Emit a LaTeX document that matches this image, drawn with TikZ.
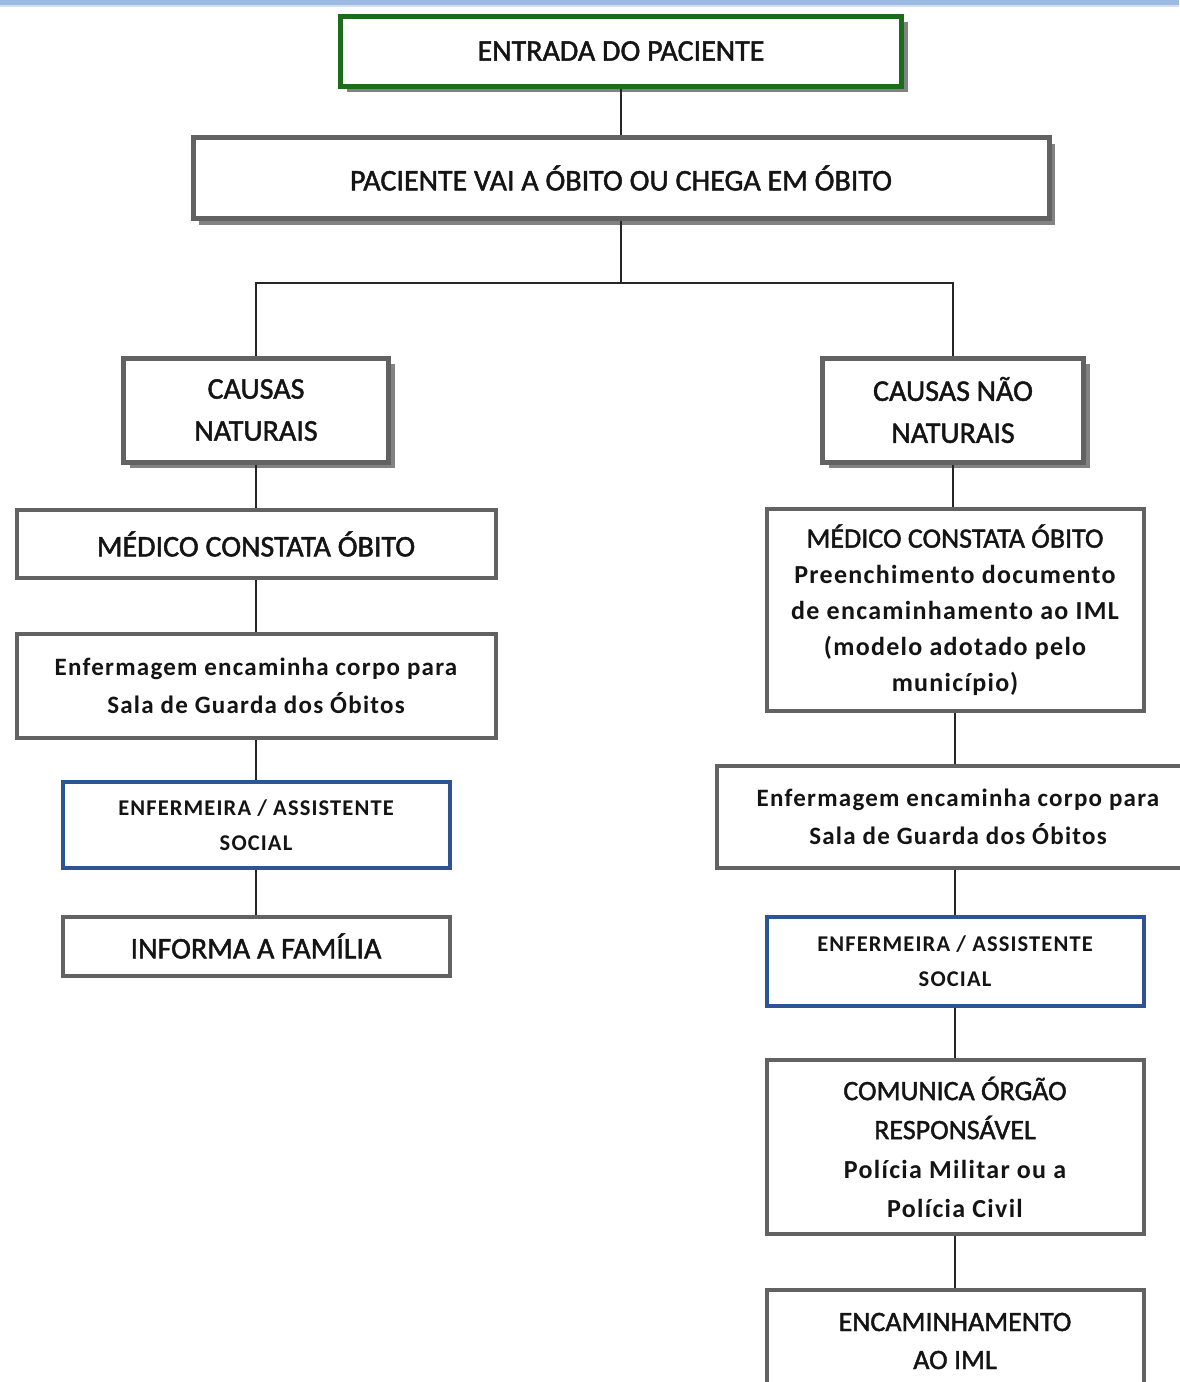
\documentclass[tikz,border=0pt]{standalone}
\usepackage{fontspec}
\setmainfont{Carlito}[FakeBold=1.5]
\newfontfamily\spacedfont[LetterSpace=5]{Carlito}
\usetikzlibrary{shadows}

\definecolor{boxgrey}{RGB}{98,98,98}
\definecolor{shadowgrey}{RGB}{130,130,130}
\definecolor{entrygreen}{RGB}{28,108,28}
\definecolor{staffblue}{RGB}{46,84,148}
\definecolor{bandblue}{RGB}{156,186,226}

\begin{document}
\begin{tikzpicture}[x=1pt,y=-1pt,
	box/.style={draw=boxgrey, line width=4pt, fill=white, inner sep=0pt, align=center, text=black!92},
	shadowbox/.style={box, line width=5pt,
		drop shadow={shadow xshift=6pt, shadow yshift=-6pt, fill=shadowgrey, opacity=1}},
	staffbox/.style={box, draw=staffblue},
	bigcaps/.style={font=\fontsize{30}{42}\selectfont},
	midcaps/.style={font=\fontsize{28}{38}\selectfont},
	bodytext/.style={font=\spacedfont\bfseries\fontsize{25}{38}\selectfont},
	stafftext/.style={font=\spacedfont\bfseries\fontsize{22.5}{35}\selectfont},
	link/.style={draw=black!85, line width=1.8pt}]

	% ---- page

	\useasboundingbox (0,0) rectangle (1179,1382);
	\fill[bandblue] (0,0) rectangle (1179,5);
	\fill[bandblue!45] (0,5) rectangle (1179,7);

	% ---- top

	\node[shadowbox, draw=entrygreen, bigcaps, minimum width=561, minimum height=70]
		(entrada) at (621,51) {ENTRADA DO PACIENTE};
	\node[shadowbox, bigcaps, minimum width=856, minimum height=81]
		(obito) at (621,178) {PACIENTE VAI A ÓBITO OU CHEGA EM ÓBITO};

	\coordinate (split) at (621,283);

	% ---- natural causes

	\node[shadowbox, bigcaps, minimum width=265, minimum height=104]
		(naturais) at (256,410) {CAUSAS\\NATURAIS};
	\node[box, bigcaps, minimum width=479, minimum height=68]
		(medicoN) at (256,544) {MÉDICO CONSTATA ÓBITO};
	\node[box, bodytext, minimum width=479, minimum height=104]
		(salaN) at (256,686) {Enfermagem encaminha corpo para\\Sala de Guarda dos Óbitos};
	\node[staffbox, stafftext, minimum width=387, minimum height=86]
		(enfN) at (256,825) {ENFERMEIRA / ASSISTENTE\\SOCIAL};
	\node[box, bigcaps, minimum width=387, minimum height=59]
		(familia) at (256,946) {INFORMA A FAMÍLIA};

	% ---- non natural causes

	\node[shadowbox, bigcaps, minimum width=261, minimum height=104]
		(naonaturais) at (953,410) {CAUSAS NÃO\\NATURAIS};
	\node[box, font=\fontsize{28}{36}\selectfont, minimum width=377, minimum height=202]
		(medicoNN) at (955,610) {MÉDICO CONSTATA ÓBITO\\
		{\spacedfont\bfseries\fontsize{26}{36}\selectfont Preenchimento documento}\\
		{\spacedfont\bfseries\fontsize{26}{36}\selectfont de encaminhamento ao IML}\\
		{\spacedfont\bfseries\fontsize{26}{36}\selectfont (modelo adotado pelo}\\
		{\spacedfont\bfseries\fontsize{26}{36}\selectfont município)}};
	\node[box, bodytext, minimum width=482, minimum height=102]
		(salaNN) at (958,817) {Enfermagem encaminha corpo para\\Sala de Guarda dos Óbitos};
	\node[staffbox, stafftext, minimum width=377, minimum height=89]
		(enfNN) at (955,961) {ENFERMEIRA / ASSISTENTE\\SOCIAL};
	\node[box, font=\fontsize{28}{39}\selectfont, minimum width=377, minimum height=174]
		(orgao) at (955,1147) {COMUNICA ÓRGÃO\\RESPONSÁVEL\\
		{\spacedfont\bfseries\fontsize{26}{39}\selectfont Polícia Militar ou a}\\
		{\spacedfont\bfseries\fontsize{26}{39}\selectfont Polícia Civil}};
	\node[box, midcaps, minimum width=377, minimum height=102]
		(iml) at (955,1341) {ENCAMINHAMENTO\\AO IML};

	% ---- connectors

	\draw[link] (entrada.south) -- (obito.north);
	\draw[link] (obito.south) -- (split);
	\draw[link] (split) -| (naturais.north);
	\draw[link] (split) -| (naonaturais.north);

	\draw[link] (naturais.south) -- (medicoN.north);
	\draw[link] (medicoN.south) -- (salaN.north);
	\draw[link] (salaN.south) -- (enfN.north);
	\draw[link] (enfN.south) -- (familia.north);

	\draw[link] (naonaturais.south) -- (naonaturais.south |- medicoNN.north);
	\draw[link] (medicoNN.south) -- (medicoNN.south |- salaNN.north);
	\draw[link] (enfNN.north |- salaNN.south) -- (enfNN.north);
	\draw[link] (enfNN.south) -- (orgao.north);
	\draw[link] (orgao.south) -- (iml.north);

\end{tikzpicture}
\end{document}
